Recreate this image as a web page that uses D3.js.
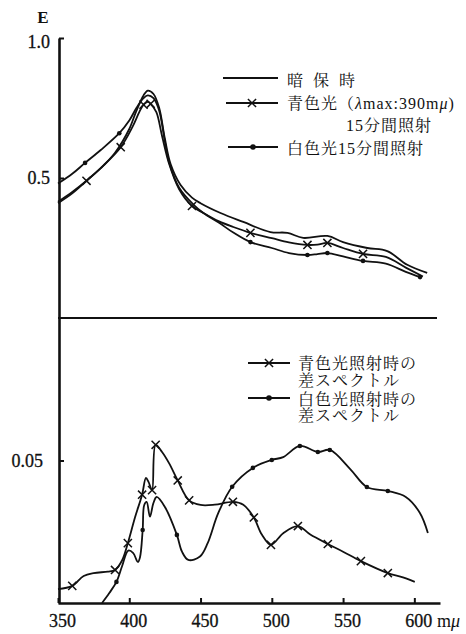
<!DOCTYPE html>
<html>
<head>
<meta charset="utf-8">
<script src="https://cdn.jsdelivr.net/npm/d3@7"></script>
</head>
<body style="margin:0; background:#fff;">
<div id="chart"></div>
<script>
// upper panel: extinction E against wavelength (mμ)
var wlDark = [350, 360, 370, 380, 390, 400, 405, 410, 413, 417, 421, 425, 429, 436, 444, 450, 464, 480, 499, 511, 522, 539, 550, 567, 581, 595, 609];
var eDark  = [0.415, 0.45, 0.49, 0.535, 0.59, 0.675, 0.74, 0.795, 0.812, 0.80, 0.75, 0.64, 0.55, 0.475, 0.43, 0.41, 0.375, 0.343, 0.307, 0.304, 0.286, 0.293, 0.271, 0.25, 0.239, 0.19, 0.161];

var wlBlue = [350, 360, 370, 382, 394, 402, 407, 410, 413, 415, 419, 423, 428, 435, 444, 452, 463, 473, 485, 500, 512, 525, 532, 539, 550, 564, 580, 594, 606];
var eBlue  = [0.41, 0.445, 0.49, 0.545, 0.61, 0.68, 0.735, 0.762, 0.772, 0.765, 0.735, 0.65, 0.55, 0.46, 0.40, 0.375, 0.345, 0.325, 0.304, 0.285, 0.27, 0.261, 0.262, 0.268, 0.25, 0.229, 0.218, 0.18, 0.148];
var markBlue = [370, 394, 410, 415, 444, 485, 525, 539, 564];

var wlWhite = [350, 360, 369, 380, 393, 400, 405, 410, 413, 417, 421, 425, 428, 435, 445, 452, 463, 473, 485, 500, 512, 525, 532, 539, 550, 564, 580, 594, 604];
var eWhite  = [0.48, 0.515, 0.554, 0.60, 0.66, 0.705, 0.75, 0.785, 0.795, 0.785, 0.74, 0.63, 0.555, 0.465, 0.405, 0.375, 0.34, 0.305, 0.271, 0.25, 0.232, 0.225, 0.228, 0.232, 0.22, 0.204, 0.194, 0.165, 0.146];
var markWhite = [369, 393, 485, 525, 539, 564, 604];

// lower panel: difference spectra
var wlBlueDiff = [350, 360, 368, 375, 385, 390, 395, 399, 404, 409, 411.7, 413.5, 416, 418.5, 423, 428, 434, 442, 450, 460, 472.7, 480, 487.4, 493, 499.4, 508, 518.3, 527, 539.3, 550, 562.5, 581.4, 592, 600.3];
var dBlue      = [0.0049, 0.006, 0.0095, 0.0105, 0.011, 0.0116, 0.015, 0.021, 0.03, 0.038, 0.0439, 0.0425, 0.0396, 0.0555, 0.053, 0.049, 0.043, 0.036, 0.0344, 0.0345, 0.0355, 0.0345, 0.030, 0.024, 0.0204, 0.0245, 0.027, 0.024, 0.0207, 0.018, 0.0147, 0.0105, 0.009, 0.0074];
var markBlueDiff = [360, 390, 399, 409, 416, 418.5, 434, 442, 472.7, 487.4, 499.4, 518.3, 539.3, 562.5, 581.4];

var wlWhiteDiff = [380.9, 386, 391, 395, 399.3, 402.8, 406, 407.5, 409.4, 410.5, 412.2, 414.5, 416.9, 419.2, 425, 433.4, 437, 441.4, 449.6, 455, 462.4, 472.2, 486.7, 500, 508, 519.7, 532.3, 540.7, 555, 566.7, 581.4, 594, 603.9, 609.5];
var dWhite      = [0, 0.0035, 0.0074, 0.013, 0.0184, 0.0175, 0.0144, 0.016, 0.0256, 0.0344, 0.0355, 0.0303, 0.035, 0.0372, 0.0337, 0.0239, 0.018, 0.0151, 0.0163, 0.021, 0.0315, 0.0408, 0.0474, 0.0502, 0.0512, 0.0551, 0.053, 0.0537, 0.047, 0.0407, 0.0393, 0.0372, 0.0316, 0.0246];
var markWhiteDiff = [391, 409.4, 433.4, 472.2, 486.7, 500, 519.7, 532.3, 540.7, 566.7, 581.4];

var xTicks = [350, 400, 450, 500, 550, 600];
var topTicks = [0.5, 1.0];
var botTicks = [0.05];

var topLegend = ["暗 保 時", "青色光（", "15分間照射", "白色光15分間照射"];
var botLegend = ["青色光照射時の", "差スペクトル", "白色光照射時の", "差スペクトル"];

var svgWidth = 466, svgHeight = 634;
var ink = "#111";
var serif = '"Liberation Serif", "Times New Roman", serif';
var jpFont = '"Liberation Serif", "Noto Serif CJK JP", serif';

var svg = d3.select("#chart").append("svg")
  .attr("width", svgWidth)
  .attr("height", svgHeight)
  .style("display", "block");

// scales
var x = d3.scaleLinear().domain([350, 618]).range([58, 440]);
var yTop = d3.scaleLinear().domain([0, 1]).range([318, 38]);
var yBot = d3.scaleLinear().domain([0, 0.1]).range([603, 318]);

function zip(wl, v) {
  return wl.map(function(w, i) { return { wl: w, v: v[i] }; });
}

// axes
var xAxis = d3.axisBottom(x).tickValues(xTicks).tickSizeInner(-5).tickSizeOuter(0).tickPadding(11);
var gx = svg.append("g").attr("transform", "translate(0,603)").call(xAxis);
gx.selectAll(".tick text").attr("dx", 4);

var gTop = svg.append("g").attr("transform", "translate(59,0)")
  .call(d3.axisLeft(yTop).tickValues(topTicks).tickFormat(d3.format(".1f")).tickSizeInner(-5).tickSizeOuter(0).tickPadding(9));
gTop.selectAll(".tick text").filter(d => d === 1).attr("dy", "0.55em");
svg.append("g").attr("transform", "translate(59,0)")
  .call(d3.axisLeft(yBot).tickValues(botTicks).tickFormat(d3.format(".2f")).tickSizeInner(-5).tickSizeOuter(0).tickPadding(16));

svg.selectAll(".tick text")
  .style("font-family", serif).style("font-size", "18px")
  .attr("fill", ink).attr("stroke", ink).attr("stroke-width", 0.3);
svg.selectAll(".domain").attr("stroke", ink).attr("stroke-width", 2.6);
svg.selectAll(".tick line").attr("stroke", ink).attr("stroke-width", 2);

// separator = upper panel baseline
svg.append("line")
  .attr("x1", 58).attr("x2", 437)
  .attr("y1", yTop(0)).attr("y2", yTop(0))
  .attr("stroke", ink).attr("stroke-width", 2.2);

// axis titles
svg.append("text").attr("x", 43).attr("y", 23).attr("text-anchor", "middle")
  .style("font-family", serif).style("font-weight", "bold").style("font-size", "17px")
  .attr("fill", ink).text("E");

svg.append("text").attr("x", 437).attr("y", 627)
  .style("font-family", serif).style("font-size", "18px")
  .attr("fill", ink)
  .html('m<tspan font-style="italic">μ</tspan>');

// curves
var lineTop = d3.line().x(d => x(d.wl)).y(d => yTop(d.v)).curve(d3.curveCatmullRom.alpha(0.5));
var lineBot = d3.line().x(d => x(d.wl)).y(d => yBot(d.v)).curve(d3.curveCatmullRom.alpha(0.5));

var curves = [
  { data: zip(wlDark, eDark), line: lineTop },
  { data: zip(wlBlue, eBlue), line: lineTop },
  { data: zip(wlWhite, eWhite), line: lineTop },
  { data: zip(wlBlueDiff, dBlue), line: lineBot },
  { data: zip(wlWhiteDiff, dWhite), line: lineBot }
];

curves.forEach(function(c) {
  svg.append("path")
    .attr("d", c.line(c.data))
    .attr("fill", "none")
    .attr("stroke", ink)
    .attr("stroke-width", 1.8);
});

// markers
var cross = d3.symbol(d3.symbolX, 45);

function drawCrosses(data, marks, y) {
  svg.append("g").selectAll("path")
    .data(data.filter(d => marks.indexOf(d.wl) >= 0))
    .enter().append("path")
    .attr("d", cross)
    .attr("transform", d => `translate(${x(d.wl)},${y(d.v)})`)
    .attr("fill", "none").attr("stroke", ink).attr("stroke-width", 1.5);
}
function drawDots(data, marks, y) {
  svg.append("g").selectAll("circle")
    .data(data.filter(d => marks.indexOf(d.wl) >= 0))
    .enter().append("circle")
    .attr("cx", d => x(d.wl)).attr("cy", d => y(d.v))
    .attr("r", 2.3).attr("fill", ink);
}

drawCrosses(zip(wlBlue, eBlue), markBlue, yTop);
drawDots(zip(wlWhite, eWhite), markWhite, yTop);
drawCrosses(zip(wlBlueDiff, dBlue), markBlueDiff, yBot);
drawDots(zip(wlWhiteDiff, dWhite), markWhiteDiff, yBot);

// legends
function legendLine(x1, x2, y, marker) {
  svg.append("line").attr("x1", x1).attr("x2", x2).attr("y1", y).attr("y2", y)
    .attr("stroke", ink).attr("stroke-width", 1.8);
  var mx = (x1 + x2) / 2;
  if (marker === "x") {
    svg.append("path").attr("d", cross).attr("transform", `translate(${mx},${y})`)
      .attr("fill", "none").attr("stroke", ink).attr("stroke-width", 1.5);
  } else if (marker === "o") {
    svg.append("circle").attr("cx", mx).attr("cy", y).attr("r", 2.8).attr("fill", ink);
  }
}
function legendText(tx, ty) {
  return svg.append("text").attr("x", tx).attr("y", ty)
    .style("font-family", jpFont).style("font-size", "16px")
    .style("letter-spacing", "1px").attr("fill", ink);
}

legendLine(223, 278, 78, null);
legendLine(226, 278, 103, "x");
legendLine(228, 278, 147, "o");

legendText(287, 86).style("letter-spacing", "3px").text(topLegend[0]);
legendText(287, 109)
  .html(topLegend[1] + '<tspan font-style="italic">λ</tspan>max:390m<tspan font-style="italic">μ</tspan>)');
legendText(346, 131).text(topLegend[2]);
legendText(287, 154).text(topLegend[3]);

legendLine(248, 290, 363, "x");
legendLine(248, 290, 398, "o");

[369, 386, 405, 421].forEach(function(y, i) {
  legendText(298, y).text(botLegend[i]);
});
</script>
</body>
</html>
